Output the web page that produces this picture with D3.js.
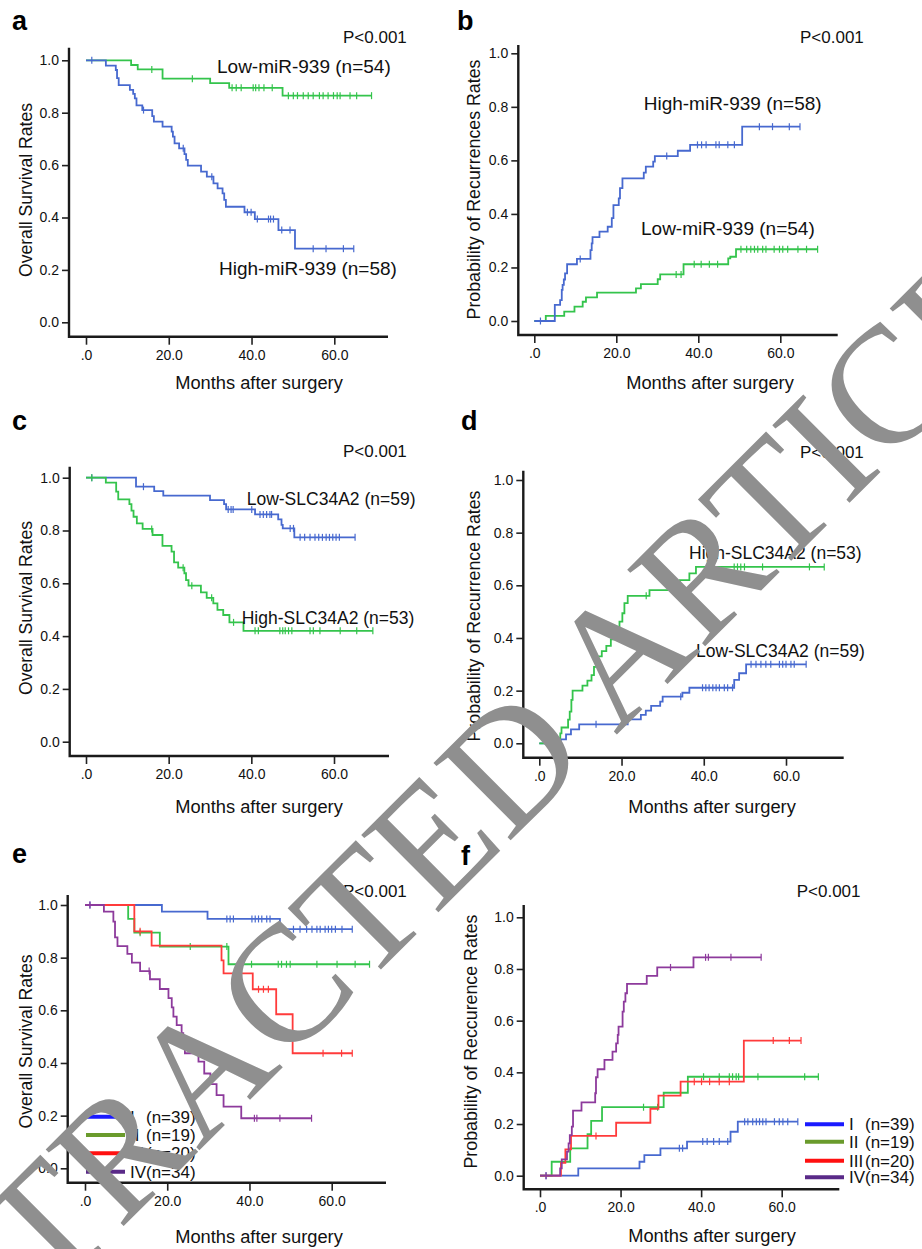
<!DOCTYPE html>
<html>
<head>
<meta charset="utf-8">
<script src="https://cdn.jsdelivr.net/npm/d3@7.9.0/dist/d3.min.js"></script>
<style>
  html, body { margin: 0; padding: 0; background: #fff; }
  svg { display: block; font-family: "Liberation Sans", Arial, sans-serif; }
</style>
</head>
<body>
<svg id="fig" width="922" height="1249"></svg>
<script>
// ---- data: step points [month, value] and censored times ----
const xTicks = [0, 20, 40, 60];
const yTicks = [0, 0.2, 0.4, 0.6, 0.8, 1.0];
const pLabel = "P<0.001";

// a: overall survival by miR-939
const aLowSteps = [[0,1],[10.9,0.982],[12.5,0.965],[18.5,0.93],[30.0,0.913],[34.6,0.895],[47.5,0.865]];
const aLowCens = [15.9,25.7,35.3,36.3,37.5,40.4,41.0,41.8,43.0,45.0,48.9,50.1,51.1,52.5,53.7,54.9,56.4,57.3,58.5,59.8,60.7,61.4,63.8,65.4,69.0];
const aHighSteps = [[0,1],[4.8,0.98],[7.2,0.963],[7.5,0.932],[7.9,0.905],[10.6,0.887],[11.4,0.872],[11.8,0.855],[12.2,0.828],[13.6,0.81],[16.0,0.787],[16.4,0.766],[18.5,0.747],[20.7,0.728],[21.0,0.709],[21.4,0.683],[22.5,0.664],[23.8,0.642],[24.2,0.62],[24.6,0.598],[27.8,0.575],[29.2,0.556],[30.8,0.53],[31.8,0.511],[33.0,0.492],[33.4,0.467],[33.8,0.441],[38.3,0.42],[40.8,0.394],[46.5,0.352],[50.5,0.281]];
const aHighCens = [1.4,13.9,23.5,30.4,39.0,39.9,41.4,44.1,44.6,45.3,47.3,49.3,54.9,58.0,62.2,64.7];

// b: recurrence by miR-939
const bHighSteps = [[0,0],[5.0,0.06],[6.3,0.078],[6.7,0.116],[6.9,0.135],[7.2,0.155],[7.5,0.178],[8.0,0.212],[10.4,0.232],[13.7,0.265],[14.0,0.29],[14.2,0.313],[15.9,0.334],[17.9,0.352],[18.9,0.384],[19.3,0.433],[20.6,0.458],[20.9,0.496],[21.5,0.533],[26.7,0.554],[27.2,0.577],[29.0,0.595],[29.4,0.616],[35.0,0.636],[38.0,0.658],[50.7,0.726]];
const bHighCens = [1.5,11.2,32.3,39.8,40.8,41.9,44.3,45.1,47.2,48.8,54.9,58.1,62.2,64.8];
const bLowSteps = [[0,0],[2.8,0.019],[7.3,0.035],[9.8,0.054],[11.8,0.072],[12.6,0.088],[15.3,0.106],[24.8,0.122],[26.0,0.138],[30.1,0.156],[30.7,0.174],[36.4,0.212],[47.3,0.234],[47.8,0.24],[49.2,0.268]];
const bLowCens = [34.6,35.8,39.0,40.7,42.7,44.7,50.4,51.8,52.8,53.7,54.5,55.7,56.5,58.5,59.8,60.6,61.8,64.3,66.4,69.1];

// c: overall survival by SLC34A2
const cLowSteps = [[0,1],[12.1,0.966],[16.5,0.949],[18.7,0.932],[30.0,0.915],[33.4,0.9],[33.9,0.88],[40.9,0.861],[46.5,0.842],[47.3,0.821],[47.6,0.808],[50.4,0.774]];
const cLowCens = [1.4,13.9,34.4,35.1,35.6,40.1,42.1,42.9,43.7,44.5,44.9,49.4,50.2,51.8,52.9,54.2,55.4,56.3,57.2,58.1,58.9,59.7,60.5,61.3,65.1];
const cHighSteps = [[0,1],[4.8,0.981],[7.3,0.947],[7.8,0.918],[10.5,0.9],[11.0,0.875],[11.5,0.852],[12.3,0.827],[13.7,0.806],[16.1,0.783],[18.5,0.742],[20.7,0.72],[21.3,0.679],[22.3,0.659],[23.8,0.638],[24.2,0.612],[24.8,0.591],[27.8,0.566],[29.2,0.545],[30.8,0.524],[31.8,0.499],[33.2,0.48],[34.7,0.452],[38.1,0.42]];
const cHighCens = [1.4,15.9,23.5,25.6,30.4,35.7,40.9,41.7,46.9,47.6,48.2,49.0,49.8,54.2,55.0,56.6,61.5,65.5,69.4];

// d: recurrence by SLC34A2
const dHighSteps = [[0,0],[2.4,0.019],[5.1,0.038],[5.4,0.06],[7.0,0.09],[7.4,0.12],[7.8,0.165],[8.1,0.2],[10.5,0.219],[11.7,0.238],[12.7,0.259],[13.3,0.29],[13.8,0.33],[15.2,0.35],[16.3,0.37],[17.4,0.395],[18.4,0.43],[19.5,0.462],[20.2,0.494],[20.7,0.532],[21.5,0.56],[26.8,0.582],[34.2,0.62],[36.5,0.645],[38.1,0.67]];
const dHighCens = [26.0,41.7,42.5,47.4,48.2,49.0,49.9,54.3,65.7,69.3];
const dLowSteps = [[0,0],[5.2,0.015],[6.5,0.034],[7.7,0.053],[9.7,0.072],[21.5,0.091],[24.7,0.108],[25.9,0.124],[27.2,0.142],[29.4,0.158],[30.0,0.177],[34.8,0.192],[36.5,0.211],[47.4,0.241],[48.6,0.266],[50.3,0.3]];
const dLowCens = [13.8,34.4,39.7,40.5,41.3,42.2,43.0,43.8,45.0,45.8,47.0,51.5,52.7,53.9,55.1,56.3,58.4,59.2,60.0,61.2,62.0,64.9];

// e: overall survival by stage
const eISteps = [[0,1],[18.7,0.975],[29.8,0.947],[47.4,0.908]];
const eICens = [1.2,34.5,35.3,36.1,40.6,41.4,42.2,43.0,44.2,45.0,48.2,50.7,52.3,53.9,55.2,56.4,57.2,58.4,59.2,60.0,60.9,62.5,65.0];
const eIISteps = [[0,1],[10.5,0.947],[12.0,0.895],[18.2,0.842],[34.9,0.775]];
const eIICens = [13.4,25.6,34.5,40.5,47.0,47.8,49.0,49.9,56.4,61.3,65.7,69.2];
const eIIISteps = [[0,1],[12.0,0.9],[16.2,0.846],[33.2,0.79],[33.7,0.74],[40.8,0.68],[46.5,0.585],[50.5,0.437]];
const eIIICens = [13.4,42.2,43.4,44.6,57.9,62.4,65.0];
const eIVSteps = [[0,1],[4.6,0.975],[6.9,0.937],[7.3,0.877],[7.9,0.844],[10.3,0.814],[11.4,0.781],[13.4,0.749],[15.8,0.718],[18.2,0.681],[20.3,0.646],[21.1,0.611],[21.5,0.576],[22.3,0.544],[23.5,0.513],[23.9,0.481],[24.3,0.437],[27.6,0.405],[29.0,0.36],[30.5,0.32],[32.0,0.278],[33.7,0.234],[38.0,0.19]];
const eIVCens = [1.2,15.6,41.2,41.8,47.4,55.1];

// f: recurrence by stage
const fISteps = [[0,0],[9.5,0.028],[24.7,0.054],[25.9,0.08],[29.9,0.106],[36.5,0.132],[47.3,0.17],[49.1,0.209]];
const fICens = [1.5,34.6,35.4,40.4,41.5,43.1,44.5,46.6,50.8,51.6,52.8,53.7,54.5,55.3,56.1,58.2,59.4,60.3,61.5,64.0];
const fIISteps = [[0,0],[2.9,0.054],[7.5,0.106],[11.8,0.161],[12.7,0.212],[15.4,0.265],[30.7,0.321],[36.7,0.383]];
const fIICens = [25.7,29.2,40.6,44.5,47.0,47.8,48.7,49.3,54.1,65.7,69.1];
const fIIISteps = [[0,0],[5.2,0.05],[6.3,0.102],[7.7,0.154],[18.9,0.205],[27.4,0.259],[29.4,0.31],[34.9,0.364],[50.6,0.523]];
const fIIICens = [13.9,38.3,40.1,42.1,44.5,47.0,57.9,61.9,64.8];
const fIVSteps = [[0,0],[5.0,0.028],[5.4,0.063],[6.7,0.093],[7.1,0.125],[7.4,0.157],[7.9,0.19],[8.2,0.252],[10.3,0.284],[13.7,0.319],[13.9,0.381],[14.3,0.412],[16.0,0.448],[18.0,0.48],[18.9,0.512],[19.3,0.545],[19.5,0.577],[20.5,0.635],[20.8,0.674],[21.2,0.706],[21.6,0.742],[26.5,0.773],[29.1,0.806],[38.1,0.845]];
const fIVCens = [1.5,32.4,41.1,41.8,47.4,54.9];

const stageNames = ["I", "II", "III", "IV"];
const stageN = [39, 19, 20, 34];

// ---- colours ----
const blue = "#4769cf", green = "#34c44c", red = "#ff3b3b", purple = "#8d3a9c";
const legendColors = ["#1a1aff", "#6a9b2c", "#ff1010", "#5a2a88"];

const svg = d3.select("#fig");
const panelLetters = [];

function drawPanel(p) {
  const x = d3.scaleLinear().domain([0, 60]).range([p.x0, p.x60]);
  const y = d3.scaleLinear().domain([0, 1]).range([p.y0, p.y1]);
  const g = svg.append("g");

  // y axis ticks + labels
  const ya = g.append("g").attr("transform", `translate(${p.axX},0)`)
    .call(d3.axisLeft(y).tickValues(yTicks).tickSize(7).tickPadding(3)
      .tickFormat(d3.format(".1f")));
  ya.select(".domain").remove();
  ya.selectAll("line").attr("stroke", "#222").attr("stroke-width", 1.6);
  ya.selectAll("text").attr("font-size", 14).attr("fill", "#111")
    .attr("font-family", "Liberation Sans, Arial, sans-serif");

  // x axis ticks + labels
  const xa = g.append("g").attr("transform", `translate(0,${p.axY})`)
    .call(d3.axisBottom(x).tickValues(xTicks).tickSize(8).tickPadding(5)
      .tickFormat(d => d === 0 ? ".0" : d.toFixed(1)));
  xa.select(".domain").remove();
  xa.selectAll("line").attr("stroke", "#222").attr("stroke-width", 1.6);
  xa.selectAll("text").attr("font-size", 14).attr("fill", "#111")
    .attr("font-family", "Liberation Sans, Arial, sans-serif");

  // axis lines (longer than the scale range)
  g.append("path")
    .attr("d", `M${p.axX},${p.axTop}V${p.axY}H${p.axRight}`)
    .attr("fill", "none").attr("stroke", "#1a1a1a").attr("stroke-width", 2.4);

  // curves
  p.series.forEach(s => {
    const end = d3.max(s.cens);
    const pts = s.steps.concat([[end, s.steps[s.steps.length - 1][1]]]);
    g.append("path")
      .datum(pts)
      .attr("d", d3.line().x(d => x(d[0])).y(d => y(d[1])).curve(d3.curveStepAfter))
      .attr("fill", "none").attr("stroke", s.color).attr("stroke-width", 1.8);

    const bis = d3.bisector(d => d[0]).right;
    g.selectAll(null).data(s.cens).join("line")
      .attr("x1", d => x(d)).attr("x2", d => x(d))
      .attr("y1", d => y(s.steps[bis(s.steps, d) - 1][1]) - 3.5)
      .attr("y2", d => y(s.steps[bis(s.steps, d) - 1][1]) + 3.5)
      .attr("stroke", s.color).attr("stroke-width", 1.2);
  });

  // labels
  panelLetters.push({ id: p.id, pos: p.letter });
  g.append("text").attr("x", p.pPos[0]).attr("y", p.pPos[1])
    .attr("font-size", 17).attr("fill", "#111").text(pLabel);
  g.append("text").attr("x", p.xTitle[0]).attr("y", p.xTitle[1])
    .attr("text-anchor", "middle").attr("font-size", 18.3).attr("fill", "#111")
    .text("Months after surgery");
  g.append("text")
    .attr("transform", `translate(${p.yTitle[0]},${p.yTitle[1]}) rotate(-90)`)
    .attr("text-anchor", "middle").attr("dominant-baseline", "central")
    .attr("font-size", p.yTitleSize).attr("fill", "#111").text(p.yTitleText);

  (p.notes || []).forEach(n => {
    g.append("text").attr("x", n.x).attr("y", n.y)
      .attr("font-size", n.size).attr("fill", "#111").text(n.text);
  });

  if (p.legend) {
    const lg = g.append("g");
    stageNames.forEach((nm, i) => {
      const yy = p.legend.rows[i];
      lg.append("line").attr("x1", p.legend.x).attr("x2", p.legend.x + 39)
        .attr("y1", yy).attr("y2", yy)
        .attr("stroke", legendColors[i]).attr("stroke-width", 4);
      lg.append("text").attr("x", p.legend.x + 44).attr("y", yy)
        .attr("dy", "0.35em").attr("font-size", 17).attr("fill", "#111").text(nm);
      lg.append("text").attr("x", p.legend.x + 60).attr("y", yy)
        .attr("dy", "0.35em").attr("font-size", 17).attr("fill", "#111")
        .text(`(n=${stageN[i]})`);
    });
  }
}

drawPanel({
  id: "a", letter: [12, 30], pPos: [343, 43], xTitle: [259, 389], yTitle: [26, 190],
  yTitleText: "Overall Survival Rates", yTitleSize: 17.6,
  x0: 86, x60: 334.3, y0: 322.3, y1: 60.3, axX: 69, axY: 336.7, axTop: 47.7, axRight: 388,
  series: [
    { steps: aLowSteps, cens: aLowCens, color: green },
    { steps: aHighSteps, cens: aHighCens, color: blue }
  ],
  notes: [
    { x: 217, y: 73, size: 19, text: "Low-miR-939 (n=54)" },
    { x: 219, y: 275, size: 19, text: "High-miR-939 (n=58)" }
  ]
});

drawPanel({
  id: "b", letter: [457, 30], pPos: [800, 42.7], xTitle: [710, 389], yTitle: [474, 189.5],
  yTitleText: "Probability of  Recurrences Rates", yTitleSize: 17.8,
  x0: 534.3, x60: 780.3, y0: 321, y1: 53.3, axX: 518.3, axY: 335, axTop: 45, axRight: 837.7,
  series: [
    { steps: bLowSteps, cens: bLowCens, color: green },
    { steps: bHighSteps, cens: bHighCens, color: blue }
  ],
  notes: [
    { x: 643.7, y: 110, size: 19, text: "High-miR-939 (n=58)" },
    { x: 641, y: 235, size: 19, text: "Low-miR-939 (n=54)" }
  ]
});

drawPanel({
  id: "c", letter: [12, 430], pPos: [343, 457], xTitle: [259, 813], yTitle: [26, 608],
  yTitleText: "Overall Survival Rates", yTitleSize: 17.6,
  x0: 86, x60: 334, y0: 741.7, y1: 477.7, axX: 69.7, axY: 756, axTop: 466.7, axRight: 389,
  series: [
    { steps: cLowSteps, cens: cLowCens, color: blue },
    { steps: cHighSteps, cens: cHighCens, color: green }
  ],
  notes: [
    { x: 246.7, y: 505, size: 17.5, text: "Low-SLC34A2 (n=59)" },
    { x: 241.7, y: 624, size: 17.5, text: "High-SLC34A2 (n=53)" }
  ]
});

drawPanel({
  id: "d", letter: [461, 430], pPos: [800, 458], xTitle: [712, 813], yTitle: [474.3, 616],
  yTitleText: "Probability of Recurrence Rates", yTitleSize: 17.8,
  x0: 539.3, x60: 786, y0: 743.3, y1: 480, axX: 523.3, axY: 757.7, axTop: 470.7, axRight: 843.7,
  series: [
    { steps: dLowSteps, cens: dLowCens, color: blue },
    { steps: dHighSteps, cens: dHighCens, color: green }
  ],
  notes: [
    { x: 689, y: 559, size: 17.5, text: "High-SLC34A2 (n=53)" },
    { x: 696, y: 657, size: 17.5, text: "Low-SLC34A2 (n=59)" }
  ]
});

drawPanel({
  id: "e", letter: [12, 863], pPos: [343, 897], xTitle: [259, 1243], yTitle: [26, 1041.5],
  yTitleText: "Overall Survival Rates", yTitleSize: 17.6,
  x0: 85, x60: 331.7, y0: 1168.3, y1: 905, axX: 67.7, axY: 1182.7, axTop: 895, axRight: 386,
  series: [
    { steps: eISteps, cens: eICens, color: blue },
    { steps: eIISteps, cens: eIICens, color: green },
    { steps: eIIISteps, cens: eIIICens, color: red },
    { steps: eIVSteps, cens: eIVCens, color: purple }
  ],
  legend: { x: 86, rows: [1116.7, 1135, 1153.3, 1171.7] }
});

drawPanel({
  id: "f", letter: [461, 865], pPos: [796.7, 897], xTitle: [712, 1241.7], yTitle: [471, 1041.5],
  yTitleText: "Probability of Reccurence Rates", yTitleSize: 17.8,
  x0: 540, x60: 781.7, y0: 1175.7, y1: 917.3, axX: 523.7, axY: 1189.3, axTop: 905, axRight: 839.3,
  series: [
    { steps: fISteps, cens: fICens, color: blue },
    { steps: fIISteps, cens: fIICens, color: green },
    { steps: fIIISteps, cens: fIIICens, color: red },
    { steps: fIVSteps, cens: fIVCens, color: purple }
  ],
  legend: { x: 805, rows: [1124.3, 1141.7, 1160.7, 1177.3] }
});

// watermark over the panels
svg.append("text")
  .attr("transform", "translate(502,849) rotate(-44.9)")
  .attr("text-anchor", "middle")
  .attr("font-family", "Liberation Serif, Times New Roman, serif")
  .attr("font-size", 167)
  .attr("fill", "#8f8f8f")
  .text("RETRACTED ARTICLE");

// panel letters stay on top
svg.selectAll(".panel-letter").data(panelLetters).join("text")
  .attr("class", "panel-letter")
  .attr("x", d => d.pos[0]).attr("y", d => d.pos[1])
  .attr("font-size", 27).attr("font-weight", "bold").attr("fill", "#000")
  .text(d => d.id);
</script>
</body>
</html>
